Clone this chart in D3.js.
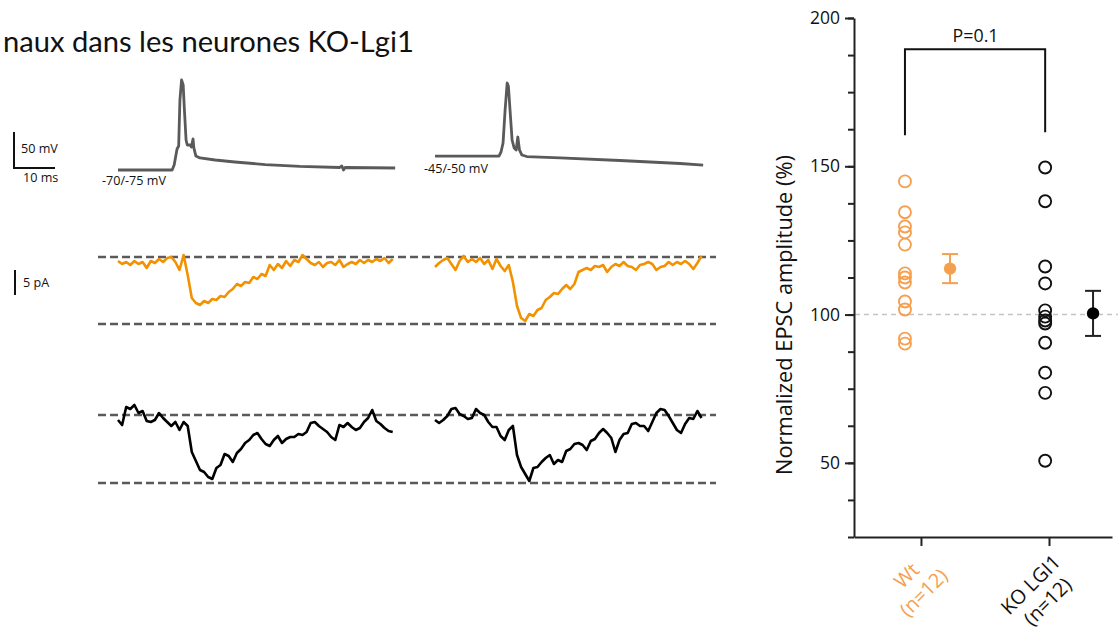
<!DOCTYPE html>
<html>
<head>
<meta charset="utf-8">
<script src="https://cdn.jsdelivr.net/npm/d3@7"></script>
<style>
  html, body { margin: 0; padding: 0; background: #fff; }
  svg { display: block; }
</style>
</head>
<body>
<svg id="fig" width="1118" height="633"></svg>
<script>
// ---------------- data ----------------
const titleText = "naux dans les neurones KO-Lgi1";

// Action potentials, [time (ms), membrane potential (mV)]
const apHyper = [[0,-70],[13.2,-70],[13.7,-63.1],[14.4,-40.8],[14.8,-36.7],[15.1,27.2],[15.5,55],[15.9,48.1],
  [16.2,13.3],[16.6,-28.3],[16.9,-35.3],[17.6,-35.3],[17.9,-38.1],[18.3,-26.9],[18.5,-39.4],[19.0,-50.6],
  [20.0,-53.3],[23.7,-56.1],[28.5,-58.9],[35.9,-62.4],[44.4,-65.1],[54.1,-66.5],[54.6,-64.4],[55.0,-70],
  [55.4,-66.5],[67.6,-67.2]];
const apDepol = [[0,-50.6],[15.6,-50.6],[16.1,-45],[16.6,-32.5],[17.1,13.3],[17.6,50.8],[17.9,46.7],
  [18.3,13.3],[18.8,-28.3],[19.3,-39.4],[19.8,-42.2],[20.2,-24.2],[20.6,-42.2],[21.2,-49.2],[22.4,-51.3],
  [30.5,-53.3],[45.1,-56.8],[59.8,-61],[65.4,-63.1]];
const holdLabels = ["-70/-75 mV", "-45/-50 mV"];

// EPSCs (pA), one sample per ms
const SAMPLE_MS = 1;
const epscWt1 = [-0.8,-1.4,-1.0,-1.6,-0.8,-1.4,-1.0,-2.2,-0.8,-1.2,-0.4,-1.0,-0.2,0.0,-1.0,-2.6,0.4,-3.6,-8.2,-9.2,
  -9.6,-8.8,-9.2,-8.4,-8.6,-7.8,-8.0,-7.0,-6.4,-5.4,-5.8,-5.0,-5.2,-4.0,-4.4,-3.4,-3.8,-1.6,-2.6,-1.4,
  -2.2,-0.8,-1.8,-0.6,-1.0,0.4,-0.4,-1.2,-1.6,-1.0,-2.0,-1.2,-1.0,-1.6,-0.6,-2.0,-1.4,-1.0,-1.4,-0.6,
  -1.2,-0.6,-1.0,-0.4,-0.8,-0.2,-1.2,-0.4];
const epscWt2 = [-2.0,-1.2,-0.6,-0.2,-1.4,-2.6,-0.8,0.2,-1.0,-0.4,-1.0,-0.2,-1.4,-0.6,-2.4,-0.4,-1.8,-2.8,-1.6,-5.0,
  -9.8,-12.2,-12.8,-11.4,-11.8,-10.6,-10.2,-8.6,-8.0,-7.2,-7.4,-6.4,-5.6,-6.4,-5.4,-3.0,-2.6,-2.2,-2.6,-1.8,
  -2.0,-1.6,-3.0,-2.0,-1.4,-1.8,-1.0,-1.8,-2.0,-2.6,-1.6,-1.4,-1.0,-1.4,-2.6,-2.0,-1.8,-1.0,-1.6,-1.0,
  -1.4,-0.8,-1.4,-2.4,-1.2,0.2];
const epscKo1 = [-1.0,-2.0,1.6,1.2,2.0,0.4,0.8,-1.2,-1.4,-1.0,0.4,-0.6,-1.4,-2.2,-1.4,-3.0,-1.4,-2.2,-7.4,-9.2,
  -11.0,-11.4,-12.4,-12.8,-10.6,-10.0,-7.8,-8.2,-9.4,-7.6,-6.8,-5.6,-5.0,-4.0,-3.6,-4.8,-5.8,-6.2,-5.0,-4.2,
  -5.6,-4.8,-4.4,-4.4,-3.8,-4.0,-3.4,-1.6,-1.4,-2.2,-2.8,-3.4,-4.4,-5.0,-2.0,-2.4,-1.6,-2.4,-3.0,-2.6,
  -1.4,-0.6,1.0,-1.2,-1.8,-2.6,-3.2,-3.4];
const epscKo2 = [-1.0,-1.6,-1.0,-0.2,1.2,1.4,0.2,-0.2,-0.8,-0.6,1.2,0.4,0.0,-1.4,-2.4,-2.4,-4.2,-5.0,-3.0,-2.2,
  -8.0,-10.4,-11.8,-13.2,-10.6,-10.4,-9.4,-8.6,-8.0,-9.8,-9.0,-9.4,-7.2,-6.8,-5.8,-5.6,-6.0,-7.0,-5.2,-4.8,
  -3.6,-2.8,-3.6,-4.6,-7.4,-5.0,-3.8,-3.6,-1.8,-1.6,-2.2,-2.2,-3.2,-1.4,0.4,1.2,1.0,-0.2,-1.6,-3.0,
  -3.6,-1.8,-0.6,-0.8,0.8,-0.6];
// reference levels (pA) drawn as dashed lines
const levelsWt = [0, -13.4];
const levelsKo = [0, -13.6];

// scale bar sizes
const barVoltage = 50, barTime = 10, barCurrent = 5;

// Normalized EPSC amplitude (%)
const groupNames = [["Wt", "(n=12)"], ["KO LGI1", "(n=12)"]];
const wtValues = [144.9, 134.5, 129.7, 127.7, 123.6, 113.9, 112.5, 110.8, 104.4, 101.7, 91.9, 90.2];
const koValues = [149.6, 138.2, 116.2, 110.5, 101.4, 99.3, 98.0, 97.0, 90.5, 80.4, 73.6, 50.7];
const groupMean = [115.5, 100.4];
const groupSem = [4.9, 7.6];
const yMajorTicks = [50, 100, 150, 200];
const yMinorTicks = [25, 37.5, 50, 62.5, 75, 87.5, 100, 112.5, 125, 137.5, 150, 162.5, 175, 187.5, 200];
const refLevel = 100;
const bracketTop = 189.5, bracketLegs = [160.5, 161.5];
const pLabel = "P=0.1";
const yTitle = "Normalized EPSC amplitude (%)";

// ---------------- drawing ----------------
const svg = d3.select("#fig");
const SANS = "'Open Sans', sans-serif";
const ORANGE_TRACE = "#f39200";
const ORANGE = "#f5a04f";
const GREY = "#5a5a5a";

function fitWidth(sel, target) {
  const fs = parseFloat(sel.attr("font-size"));
  const w = sel.node().getComputedTextLength();
  const nfs = fs * target / w;
  sel.attr("font-size", nfs.toFixed(2));
  return nfs;
}

// Title
const title = svg.append("text").attr("x", 3).attr("y", 52)
  .attr("font-family", "Lato, sans-serif").attr("font-size", 26).attr("fill", "#111")
  .text(titleText);
fitWidth(title, 411);

// ---- traces panel ----
const colStart = [118, 435];
const tScale = colStart.map(x0 => d3.scaleLinear().domain([0, 10]).range([x0, x0 + 41]));
const vScale = d3.scaleLinear().domain([-70, 55]).range([170, 80]);
const iWt = d3.scaleLinear().domain([0, -5]).range([257, 282]);
const iKo = d3.scaleLinear().domain([0, -5]).range([415, 440]);
const dashExtent = [98, 716];

const traces = svg.append("g");

// dashed reference levels
[[iWt, levelsWt], [iKo, levelsKo]].forEach(([s, lv]) => {
  lv.forEach(v => {
    traces.append("line")
      .attr("x1", dashExtent[0]).attr("x2", dashExtent[1])
      .attr("y1", s(v)).attr("y2", s(v))
      .attr("stroke", GREY).attr("stroke-width", 2.6).attr("stroke-dasharray", "8,4");
  });
});

// action potentials
[apHyper, apDepol].forEach((ap, c) => {
  const line = d3.line().x(d => tScale[c](d[0])).y(d => vScale(d[1]));
  traces.append("path").attr("d", line(ap)).attr("fill", "none")
    .attr("stroke", GREY).attr("stroke-width", 2.8).attr("stroke-linejoin", "round");
});

// EPSC traces
const epsc = [
  [epscWt1, 0, iWt, ORANGE_TRACE], [epscWt2, 1, iWt, ORANGE_TRACE],
  [epscKo1, 0, iKo, "#000"], [epscKo2, 1, iKo, "#000"]
];
epsc.forEach(([vals, c, s, col]) => {
  const line = d3.line().x((d, i) => tScale[c](i * SAMPLE_MS)).y(d => s(d));
  traces.append("path").attr("d", line(vals)).attr("fill", "none")
    .attr("stroke", col).attr("stroke-width", 2.6).attr("stroke-linejoin", "round");
});

// holding potential labels
const smallFont = 12.6;
traces.append("text").attr("x", 102).attr("y", 185).text(holdLabels[0]);
traces.append("text").attr("x", 424).attr("y", 173).text(holdLabels[1]);

// scale bars
const sb = svg.append("g").attr("stroke", "#111").attr("stroke-width", 2).attr("fill", "none");
const sbX = 14, sbY = 168;
const vLen = vScale(-70) - vScale(-70 + barVoltage);
const tLen = tScale[0](barTime) - tScale[0](0);
sb.append("path").attr("d", `M${sbX},${sbY - vLen}V${sbY}H${sbX + tLen}`);
const iLen = iWt(-barCurrent) - iWt(0);
sb.append("path").attr("d", `M15,270V${270 + iLen}`);
traces.append("text").attr("x", 21).attr("y", 153).text(`${barVoltage} mV`);
traces.append("text").attr("x", 23).attr("y", 182).text(`${barTime} ms`);
traces.append("text").attr("x", 23).attr("y", 287).text(`${barCurrent} pA`);
traces.selectAll("text").attr("font-family", SANS).attr("font-size", smallFont).attr("fill", "#111");

// ---- scatter panel ----
const yS = d3.scaleLinear().domain([25, 200]).range([537, 18]);
const xS = d3.scaleLinear().domain([-0.523, 1.492]).range([854, 1112]);
const scatterShift = [-0.125, -0.03];
const meanShift = [0.227, 0.344];
const groupStroke = [ORANGE, "#111"];
const groupFill = [ORANGE, "#000"];

const panel = svg.append("g");

// reference line at 100 %
panel.append("line").attr("x1", 855).attr("x2", 1118)
  .attr("y1", yS(refLevel)).attr("y2", yS(refLevel))
  .attr("stroke", "#c4c4c4").attr("stroke-width", 1.6).attr("stroke-dasharray", "5,4");

// axes
const yMinor = panel.append("g").attr("transform", "translate(854,0)")
  .call(d3.axisLeft(yS).tickValues(yMinorTicks).tickSize(6).tickSizeOuter(0).tickFormat(""));
yMinor.select(".domain").remove();
const yMajor = panel.append("g").attr("transform", "translate(854,0)")
  .call(d3.axisLeft(yS).tickValues(yMajorTicks).tickSize(9).tickSizeOuter(0).tickPadding(5));
const xAx = panel.append("g").attr("transform", "translate(0,537)")
  .call(d3.axisBottom(xS).tickValues([0, 1]).tickSize(9).tickSizeOuter(0).tickFormat(""));
panel.selectAll(".domain, .tick line").attr("stroke", "#222").attr("stroke-width", 2);
const tickTexts = yMajor.selectAll(".tick text").attr("font-family", SANS).attr("fill", "#111").attr("font-size", 18);
const fsTick = fitWidth(yMajor.selectAll(".tick text").filter(d => d === 200), 30);
tickTexts.attr("font-size", fsTick.toFixed(2));

// individual cells
[wtValues, koValues].forEach((vals, g) => {
  panel.append("g").selectAll("circle").data(vals).join("circle")
    .attr("cx", xS(g + scatterShift[g])).attr("cy", d => yS(d)).attr("r", 6)
    .attr("fill", "none").attr("stroke", groupStroke[g]).attr("stroke-width", 1.9);
});

// mean ± SEM
groupMean.forEach((m, g) => {
  const cx = xS(g + meanShift[g]);
  const top = yS(m + groupSem[g]), bot = yS(m - groupSem[g]);
  const e = panel.append("g").attr("stroke", g === 0 ? ORANGE : "#222").attr("stroke-width", 2);
  e.append("line").attr("x1", cx).attr("x2", cx).attr("y1", top).attr("y2", bot);
  e.append("line").attr("x1", cx - 8).attr("x2", cx + 8).attr("y1", top).attr("y2", top);
  e.append("line").attr("x1", cx - 8).attr("x2", cx + 8).attr("y1", bot).attr("y2", bot);
  panel.append("circle").attr("cx", cx).attr("cy", yS(m)).attr("r", 6.2).attr("fill", groupFill[g]);
});

// significance bracket
const bx0 = xS(0 + scatterShift[0]), bx1 = xS(1 + scatterShift[1]);
panel.append("path")
  .attr("d", `M${bx0},${yS(bracketLegs[0])}V${yS(bracketTop)}H${bx1}V${yS(bracketLegs[1])}`)
  .attr("fill", "none").attr("stroke", "#111").attr("stroke-width", 2);
const pT = panel.append("text").attr("x", (bx0 + bx1) / 2 + 0.5).attr("y", yS(bracketTop) - 7)
  .attr("text-anchor", "middle").attr("font-family", SANS).attr("font-size", 18).attr("fill", "#111")
  .text(pLabel);
fitWidth(pT, 46);

// y title
const yt = panel.append("text").attr("transform", "translate(792,315) rotate(-90)")
  .attr("text-anchor", "middle").attr("font-family", SANS).attr("font-size", 22).attr("fill", "#111")
  .text(yTitle);
fitWidth(yt, 320);

// group labels, rotated
const labelCenter = [[-1, 52], [-5, 61]];
const labelGap = 24;
let fsLab = 19;
{
  const probe = panel.append("text").attr("font-family", SANS).attr("font-size", 19).text(groupNames[0][1]);
  fsLab = fitWidth(probe, 58);
  probe.remove();
}
groupNames.forEach((lines, g) => {
  const gx = xS(g) + labelCenter[g][0], gy = 537 + labelCenter[g][1];
  const t = panel.append("g").attr("transform", `translate(${gx},${gy}) rotate(-45)`);
  lines.forEach((s, k) => {
    t.append("text").attr("x", 0).attr("y", (k - 0.5) * labelGap)
      .attr("text-anchor", "middle").attr("font-family", SANS).attr("font-size", fsLab.toFixed(2))
      .attr("fill", g === 0 ? ORANGE : "#111").text(s);
  });
});
</script>
</body>
</html>
